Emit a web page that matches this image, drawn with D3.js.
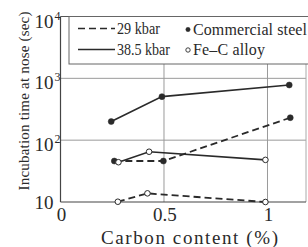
<!DOCTYPE html>
<html><head><meta charset="utf-8">
<script src="https://cdn.jsdelivr.net/npm/d3@7"></script>
<style>html,body{margin:0;padding:0;background:#fff;overflow:hidden}svg{display:block}</style>
</head><body>
<svg id="c" width="308" height="247"></svg>
<script>
// ---- data ----
const cs385X = [0.245, 0.49, 1.105];   // commercial steel, 38.5 kbar
const cs385Y = [200, 506, 780];
const cs29X  = [0.26, 0.497, 1.11];    // commercial steel, 29 kbar
const cs29Y  = [46, 46, 231];
const fc385X = [0.28, 0.428, 0.99];    // Fe-C alloy, 38.5 kbar
const fc385Y = [44, 65, 48];
const fc29X  = [0.277, 0.42, 0.99];    // Fe-C alloy, 29 kbar
const fc29Y  = [10.1, 13.8, 10];
const xTicks = [0, 0.5, 1];
const xTickLabels = ["0", "0.5", "1"];
const yTicks = [10, 100, 1000, 10000];
const yTickExp = ["", "2", "3", "4"];
const legendPressure = ["29 kbar", "38.5 kbar"];
const legendMaterial = ["Commercial steel", "Fe\u2013C alloy"];
const xTitle = "Carbon content (%)";
const yTitle = "Incubation time at nose (sec)";

const series = [
  {x: cs385X, y: cs385Y, dash: null, filled: true},
  {x: cs29X,  y: cs29Y,  dash: "7,4", filled: true},
  {x: fc385X, y: fc385Y, dash: null, filled: false},
  {x: fc29X,  y: fc29Y,  dash: "7,4", filled: false}
];

const svg = d3.select("#c");
const font = "'Liberation Serif','Times New Roman',serif";
const ink = "#2a2a2a";

const x = d3.scaleLinear().domain([0, 1.186]).range([60.5, 306]);
const y = d3.scaleLog().domain([10, 10000]).range([202, 16.5]);

// grid
svg.append("g").selectAll("line").data(yTicks.slice(1, 3)).join("line")
  .attr("x1", x(0)).attr("x2", x(1.186)).attr("y1", d => y(d)).attr("y2", d => y(d))
  .attr("stroke", "#9a9a9a").attr("stroke-width", 1);
svg.append("g").selectAll("line").data(xTicks.slice(1)).join("line")
  .attr("x1", d => x(d)).attr("x2", d => x(d)).attr("y1", y(10)).attr("y2", y(10000))
  .attr("stroke", "#9a9a9a").attr("stroke-width", 1);

// frame
svg.append("line").attr("x1", x(1.186)).attr("x2", x(1.186)).attr("y1", y(10)).attr("y2", y(10000))
  .attr("stroke", "#aaa").attr("stroke-width", 1);
svg.append("line").attr("x1", x(0)).attr("x2", x(1.186)).attr("y1", y(10000)).attr("y2", y(10000))
  .attr("stroke", "#555").attr("stroke-width", 1);
svg.append("line").attr("x1", x(0)).attr("x2", x(1.186)).attr("y1", y(10)).attr("y2", y(10))
  .attr("stroke", "#444").attr("stroke-width", 1.2);
svg.append("line").attr("x1", x(0)).attr("x2", x(0)).attr("y1", y(10)).attr("y2", y(10000))
  .attr("stroke", "#444").attr("stroke-width", 1.2);

// legend box
svg.append("rect").attr("x", 69).attr("y", y(10000)).attr("width", 260).attr("height", 47.5)
  .attr("fill", "#fff").attr("stroke", "#666").attr("stroke-width", 1);

// series
const line = d3.line().x(d => x(d[0])).y(d => y(d[1]));
series.forEach(s => {
  const pts = s.x.map((v, i) => [v, s.y[i]]);
  svg.append("path").attr("d", line(pts)).attr("fill", "none")
    .attr("stroke", ink).attr("stroke-width", s.dash ? 1.8 : 1.6)
    .attr("stroke-dasharray", s.dash);
  svg.append("g").selectAll("circle").data(pts).join("circle")
    .attr("cx", d => x(d[0])).attr("cy", d => y(d[1])).attr("r", s.filled ? 3 : 2.8)
    .attr("fill", s.filled ? ink : "#fff").attr("stroke", ink).attr("stroke-width", s.filled ? 0.5 : 1);
});

// y tick labels
yTicks.forEach((t, i) => {
  const base = y(t) + (yTickExp[i] ? 11 : 7);
  svg.append("text").attr("x", 53.5).attr("y", base).attr("text-anchor", "end")
    .attr("font-family", font).attr("font-size", 19).attr("fill", ink).text("10");
  if (yTickExp[i]) {
    svg.append("text").attr("x", 54.5).attr("y", base - 8)
      .attr("font-family", font).attr("font-size", 12).attr("fill", ink).text(yTickExp[i]);
  }
});
// x tick labels
svg.append("g").selectAll("text").data(xTicks).join("text")
  .attr("x", d => x(d) + 1).attr("y", 221).attr("text-anchor", "middle")
  .attr("font-family", font).attr("font-size", 19).attr("fill", ink)
  .text((d, i) => xTickLabels[i]);

// titles
svg.append("text").attr("x", 189.5).attr("y", 244).attr("text-anchor", "middle")
  .attr("font-family", font).attr("font-size", 19).attr("fill", ink)
  .attr("textLength", 177).attr("lengthAdjust", "spacing").text(xTitle);
svg.append("text").attr("transform", "translate(29,101) rotate(-90)").attr("text-anchor", "middle")
  .attr("font-family", font).attr("font-size", 15).attr("fill", ink)
  .attr("textLength", 179).attr("lengthAdjust", "spacing").text(yTitle);

// legend
const lg = svg.append("g");
[["7,4", 28.5], [null, 49.5]].forEach((d, i) => {
  lg.append("line").attr("x1", 78).attr("x2", 115).attr("y1", d[1]).attr("y2", d[1])
    .attr("stroke", ink).attr("stroke-width", 1.6).attr("stroke-dasharray", d[0]);
  lg.append("text").attr("x", 117).attr("y", d[1] + 5.5).attr("font-family", font).attr("font-size", 16)
    .attr("fill", ink).attr("textLength", i ? 53 : 43).attr("lengthAdjust", "spacingAndGlyphs")
    .text(legendPressure[i]);
});
[[true, 29.5], [false, 50]].forEach((d, i) => {
  lg.append("circle").attr("cx", 188).attr("cy", d[1]).attr("r", 2.2)
    .attr("fill", d[0] ? ink : "#fff").attr("stroke", ink).attr("stroke-width", d[0] ? 0.4 : 0.9);
  lg.append("text").attr("x", 193).attr("y", d[1] + 5).attr("font-family", font).attr("font-size", 16)
    .attr("fill", ink).attr("textLength", i ? 72 : 114).attr("lengthAdjust", "spacing")
    .text(legendMaterial[i]);
});
</script>
</body></html>
